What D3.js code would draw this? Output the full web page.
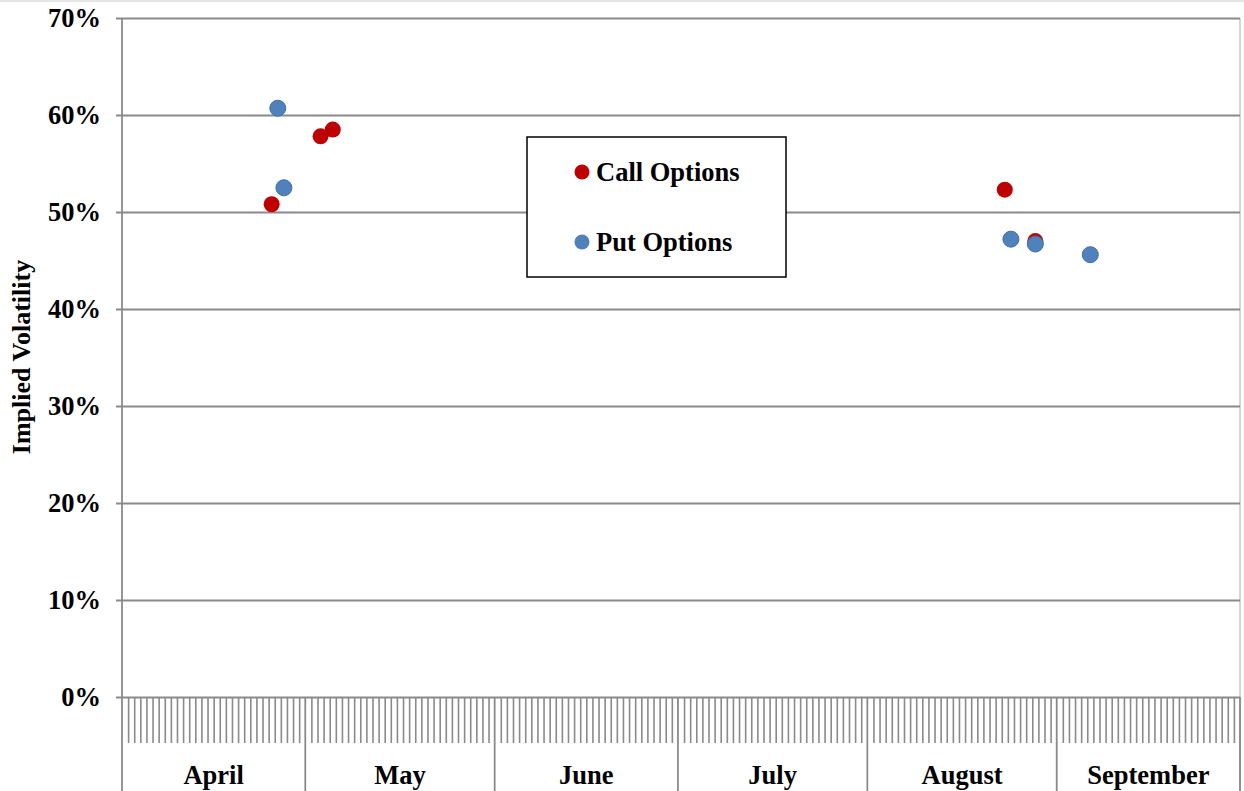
<!DOCTYPE html>
<html>
<head>
<meta charset="utf-8">
<script src="https://cdn.jsdelivr.net/npm/d3@7"></script>
<style>
  html, body { margin: 0; padding: 0; background: #fff; }
  svg { display: block; }
  text { font-family: "Liberation Serif", "Times New Roman", serif; font-weight: bold; fill: #000; }
</style>
</head>
<body>
<svg id="chart" width="1244" height="791"></svg>
<script>
// ---- data ----
const months = ["April", "May", "June", "July", "August", "September"];
const yTicks = [0, 0.1, 0.2, 0.3, 0.4, 0.5, 0.6, 0.7];
const seriesNames = ["Call Options", "Put Options"];
const callDates = ["2013-04-25", "2013-05-03", "2013-05-05", "2013-08-23", "2013-08-28"];
const callVols  = [0.508, 0.578, 0.585, 0.523, 0.470];
const putDates  = ["2013-04-26", "2013-04-27", "2013-08-24", "2013-08-28", "2013-09-06"];
const putVols   = [0.607, 0.525, 0.472, 0.467, 0.456];
const yTitle = "Implied Volatility";

// ---- layout ----
const svg = d3.select("#chart");
const L = 122, R = 1240, T = 18, B = 697;
const parse = d3.utcParse("%Y-%m-%d");
const x = d3.scaleUtc()
  .domain([Date.UTC(2013, 3, 1), Date.UTC(2013, 9, 1)])
  .range([L, R]);
const y = d3.scaleLinear().domain([0, 0.7]).range([B, T]);
const noon = d => d3.utcHour.offset(parse(d), 12);

const gridColor = "#8a8a8a";

// outer faint border line at top
svg.append("line").attr("x1", 0).attr("x2", 1244).attr("y1", 1).attr("y2", 1)
  .attr("stroke", "#dcdcdc").attr("stroke-width", 1.5);

// right plot border
svg.append("line").attr("x1", R).attr("x2", R).attr("y1", T).attr("y2", 791)
  .attr("stroke", "#c8c8c8").attr("stroke-width", 1.5);

// y axis with gridlines
const yAxis = d3.axisLeft(y).tickValues(yTicks).tickFormat(d3.format(".0%"))
  .tickSize(-(R - L)).tickPadding(21);
const gy = svg.append("g").attr("transform", `translate(${L},0)`).call(yAxis);
gy.select(".domain").remove();
gy.selectAll(".tick line").attr("x1", -6).attr("stroke", gridColor).attr("stroke-width", 1.8);
gy.selectAll(".tick text").style("font-size", "26.5px").attr("dy", "0.32em")
  .style("font-family", "'Liberation Serif', serif").style("font-weight", "bold");

// y axis line
svg.append("line").attr("x1", L).attr("x2", L).attr("y1", T).attr("y2", 791)
  .attr("stroke", gridColor).attr("stroke-width", 1.8);

// daily ticks below axis
const days = d3.utcDay.range(x.domain()[0], x.domain()[1]).slice(1);
const monthStarts = d3.utcMonth.range(x.domain()[0], d3.utcDay.offset(x.domain()[1], 1));
const isMonthStart = d => d.getUTCDate() === 1;
const xAxis = d3.axisBottom(x).tickValues(days.filter(d => !isMonthStart(d)))
  .tickSize(46).tickFormat("");
const gx = svg.append("g").attr("transform", `translate(0,${B})`).call(xAxis);
gx.select(".domain").remove();
gx.selectAll(".tick line").attr("stroke", gridColor).attr("stroke-width", 1.6);

// month separators
svg.append("g").selectAll("line").data(monthStarts.slice(1)).join("line")
  .attr("x1", d => x(d)).attr("x2", d => x(d)).attr("y1", B).attr("y2", 791)
  .attr("stroke", gridColor).attr("stroke-width", 1.8);

// month labels
svg.append("g").selectAll("text").data(months).join("text")
  .attr("x", (d, i) => (x(monthStarts[i]) + x(monthStarts[i + 1])) / 2)
  .attr("y", 784)
  .attr("text-anchor", "middle")
  .style("font-size", "26.5px")
  .text(d => d);

// y title
svg.append("text")
  .attr("transform", `translate(30,${357}) rotate(-90)`)
  .attr("text-anchor", "middle")
  .style("font-size", "26px")
  .text(yTitle);

// points
const callData = callDates.map((d, i) => ({ date: noon(d), v: callVols[i] }));
const putData = putDates.map((d, i) => ({ date: noon(d), v: putVols[i] }));
const colors = ["#C00000", "#4F81BD"];

svg.append("g").selectAll("circle").data(callData).join("circle")
  .attr("cx", d => x(d.date)).attr("cy", d => y(d.v)).attr("r", 8)
  .attr("fill", colors[0]);
svg.append("g").selectAll("circle").data(putData).join("circle")
  .attr("cx", d => x(d.date)).attr("cy", d => y(d.v)).attr("r", 8)
  .attr("fill", colors[1]).attr("stroke", "#3f6fa8").attr("stroke-width", 1);

// legend
const lg = svg.append("g");
lg.append("rect").attr("x", 527).attr("y", 137).attr("width", 259).attr("height", 140)
  .attr("fill", "#fff").attr("stroke", "#000").attr("stroke-width", 1.5);
const ly = [172, 242];
seriesNames.forEach((s, i) => {
  lg.append("circle").attr("cx", 582).attr("cy", ly[i]).attr("r", 7.5).attr("fill", colors[i]);
  lg.append("text").attr("x", 596).attr("y", ly[i] + 8.5).style("font-size", "26.5px").text(s);
});
</script>
</body>
</html>
